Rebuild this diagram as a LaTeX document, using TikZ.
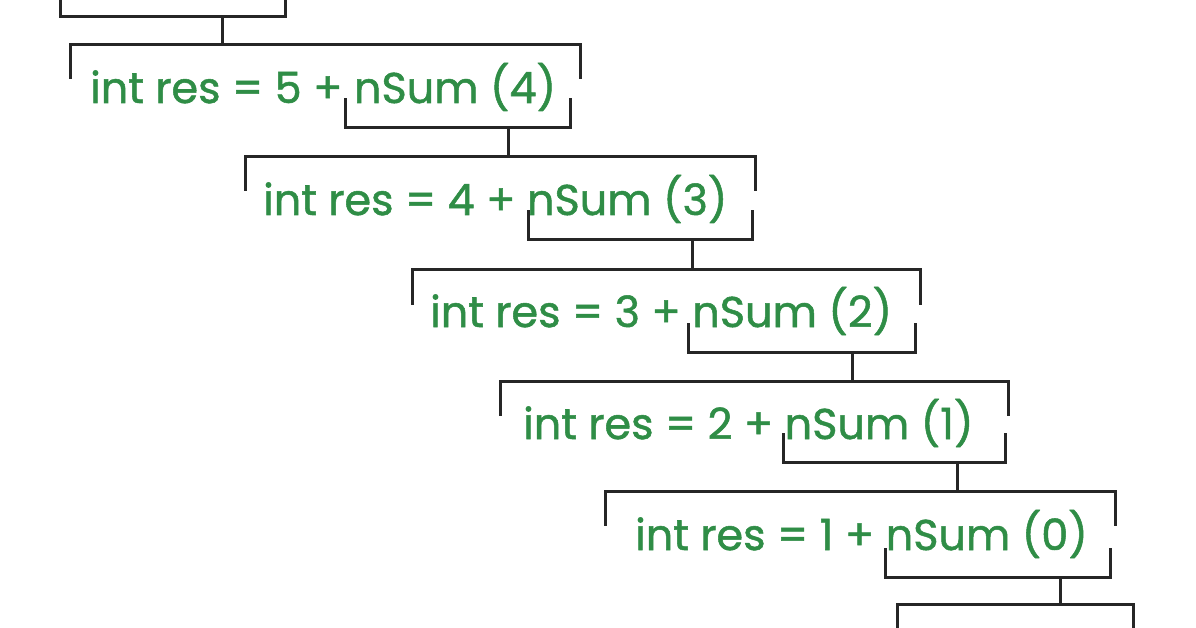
\documentclass[tikz,border=0pt]{standalone}
\usepackage{fontspec}
\setmainfont{Poppins}
\newfontfamily\codefont{Poppins}[FakeBold=1.2]
\definecolor{codegreen}{HTML}{2F8D46}
\begin{document}
\begin{tikzpicture}[x=1pt,y=-1pt,
  br/.style={draw=black!85,line width=3pt,line cap=rect},
  code/.style={anchor=base west,inner sep=0pt,text=codegreen,font=\codefont\fontsize{43}{50}\selectfont}]
\useasboundingbox[fill=white] (0,0) rectangle (1196,628);
% top box
\draw[br] (60,0) -- (60,17) -- (285,17) -- (285,0);
\foreach \n/\ty/\xl/\xr/\tx/\by/\bl/\bR/\bot/\cx/\nt/\lab in {
 5/45/70/580/90/103/345/570/128/508/157/{int res = 5 + nSum (4)},
 4/157/245/755/263/215/528/752/240/692/270/{int res = 4 + nSum (3)},
 3/270/412/920/430/327/688/915/352/852/381/{int res = 3 + nSum (2)},
 2/381/500/1008/523/439/783/1005/462/957/491/{int res = 2 + nSum (1)},
 1/491/605/1115/635/550/885/1110/577/1060/604/{int res = 1 + nSum (0)}}{
  \draw[br] (\xl,\ty+33) -- (\xl,\ty) -- (\xr,\ty) -- (\xr,\ty+33);
  \node[code] (t\n) at (\tx,\by) {\lab};
  \draw[br] (\bl,\bot-28) -- (\bl,\bot) -- (\bR,\bot) -- (\bR,\bot-28);
  \coordinate (b\n) at (\cx,\bot);
  \coordinate (n\n) at (\cx,\nt);
  \draw[br] (b\n) -- (n\n);
}
\draw[br] (222,17) -- (222,45);
% bottom box
\draw[br] (897,628) -- (897,604) -- (1133,604) -- (1133,628);
\end{tikzpicture}
\end{document}
